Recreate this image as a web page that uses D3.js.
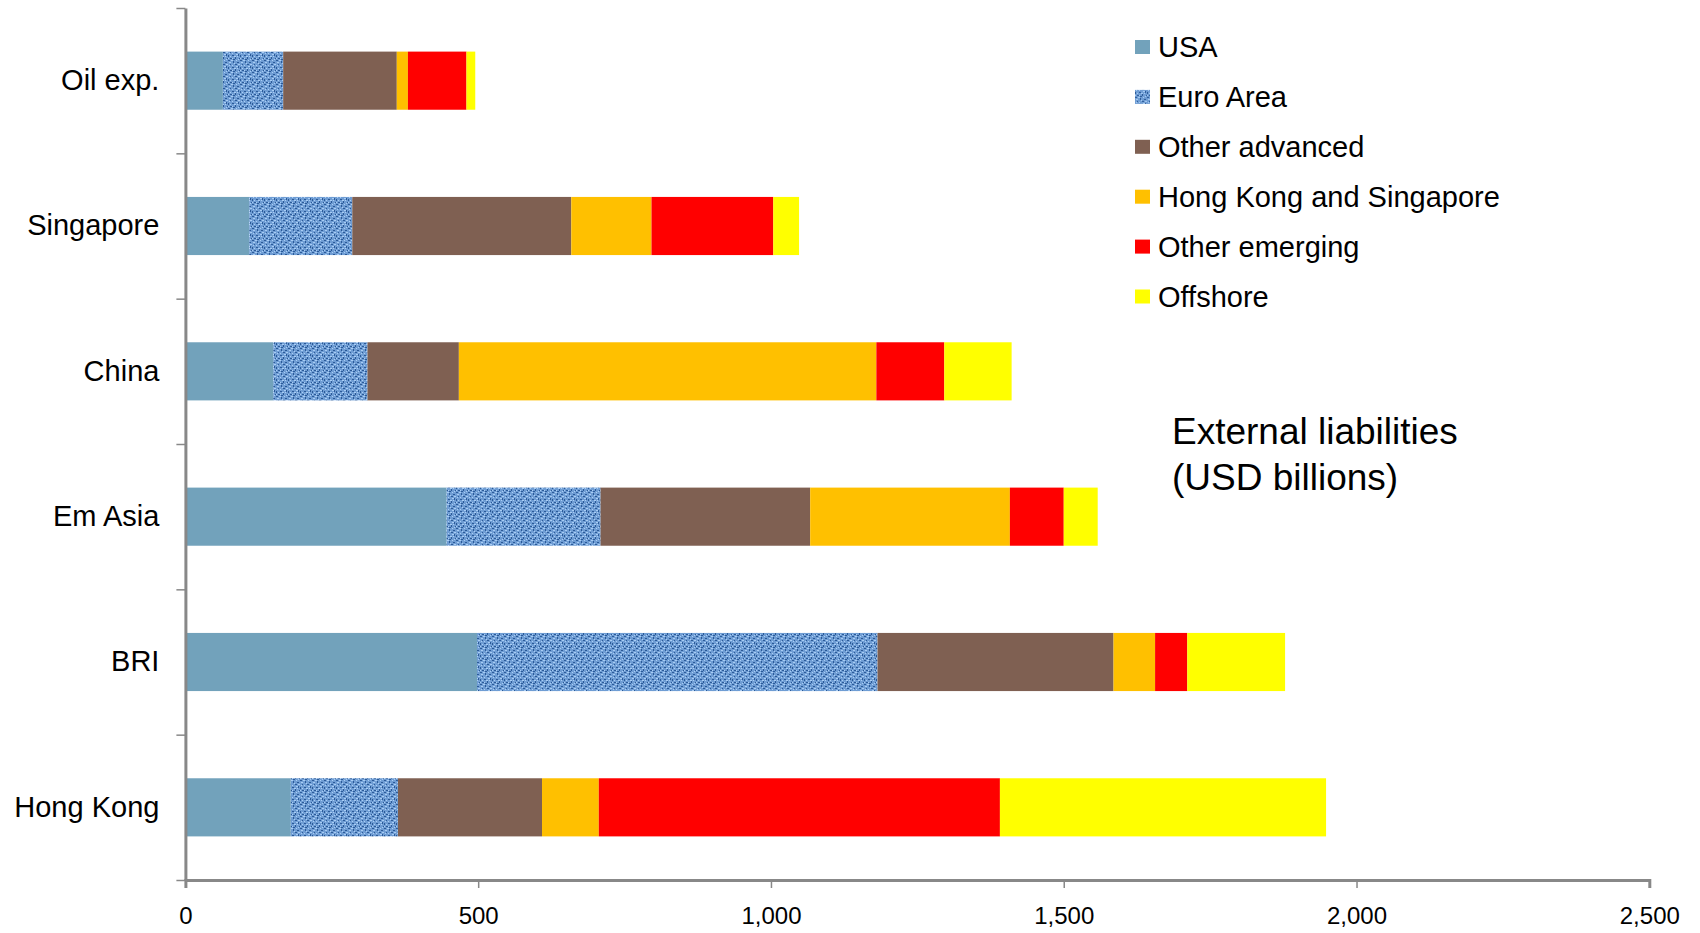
<!DOCTYPE html>
<html>
<head>
<meta charset="utf-8">
<script src="https://cdn.jsdelivr.net/npm/d3@7"></script>
<style>
  html, body { margin: 0; padding: 0; background: #fff; }
  svg { display: block; }
  text { font-family: "Liberation Sans", Arial, sans-serif; fill: #000; }
</style>
</head>
<body>
<svg id="chart" width="1700" height="933"></svg>
<script>
const categories = ["Oil exp.", "Singapore", "China", "Em Asia", "BRI", "Hong Kong"];
const seriesNames = ["USA", "Euro Area", "Other advanced", "Hong Kong and Singapore", "Other emerging", "Offshore"];
const usa            = [64, 109, 150, 446, 498, 180];
const euroArea       = [103, 176, 161, 263, 684, 183];
const otherAdvanced  = [194, 374, 156, 358, 403, 246];
const hkSingapore    = [19, 137, 713, 341, 71, 97];
const otherEmerging  = [100, 208, 116, 92, 55, 685];
const offshore       = [15, 44, 115, 58, 167, 557];
const xTicks = [0, 500, 1000, 1500, 2000, 2500];
const titleLines = ["External liabilities", "(USD billions)"];

const colors = ["#72a2bb", "url(#euroPattern)", "#7f6052", "#ffc000", "#ff0000", "#ffff00"];

const seriesValues = [usa, euroArea, otherAdvanced, hkSingapore, otherEmerging, offshore];
const rows = categories.map((c, i) => {
  const r = { cat: c };
  seriesNames.forEach((s, j) => r[s] = seriesValues[j][i]);
  return r;
});

const svg = d3.select("#chart");

// Euro Area texture pattern
const defs = svg.append("defs");
const pat = defs.append("pattern").attr("id", "euroPattern")
  .attr("patternUnits", "userSpaceOnUse").attr("width", 12).attr("height", 12);
pat.append("rect").attr("width", 12).attr("height", 12).attr("fill", "#6f9dd4");
const darkSpecks = [[0,0,2,1],[5,1,1,2],[9,2,2,1],[2,4,1,1],[7,4,2,1],[0,7,1,2],[4,7,2,1],[10,6,1,2],[2,10,2,1],[7,9,1,2],[11,10,1,1],[5,11,2,1]];
const lightSpecks = [[3,0,2,1],[8,0,1,1],[1,2,2,1],[6,3,1,1],[10,4,2,1],[4,5,1,1],[1,5,1,1],[8,6,2,1],[6,8,2,1],[2,8,1,1],[9,8,1,1],[0,10,1,1],[4,10,1,1],[10,11,1,1]];
pat.selectAll("rect.d").data(darkSpecks).enter().append("rect")
  .attr("x", d => d[0]).attr("y", d => d[1]).attr("width", d => d[2]).attr("height", d => d[3]).attr("fill", "#2b5a98");
pat.selectAll("rect.l").data(lightSpecks).enter().append("rect")
  .attr("x", d => d[0]).attr("y", d => d[1]).attr("width", d => d[2]).attr("height", d => d[3]).attr("fill", "#a9cdf4");

const x = d3.scaleLinear().domain([0, 2500]).range([185.4, 1649.3]);
const y = d3.scaleBand().domain(categories).range([8, 880]).paddingInner(0.6).paddingOuter(0.3);
const yBound = d3.scaleLinear().domain([0, categories.length]).range([8, 880]);

const stack = d3.stack().keys(seriesNames);
const stacked = stack(rows);

svg.append("g").selectAll("g").data(stacked).enter().append("g")
  .attr("fill", (d, i) => colors[i])
  .selectAll("rect").data(d => d).enter().append("rect")
  .attr("x", d => x(d[0]))
  .attr("y", d => y(d.data.cat))
  .attr("width", d => x(d[1]) - x(d[0]))
  .attr("height", y.bandwidth());

// X axis
const xAxis = svg.append("g").attr("transform", "translate(0,880)")
  .call(d3.axisBottom(x).tickValues(xTicks).tickFormat(d3.format(",")).tickSize(8).tickPadding(19));
xAxis.select(".domain").attr("stroke", "#888").attr("stroke-width", 3);
xAxis.selectAll(".tick line").attr("stroke", "#888").attr("stroke-width", 1.5);
xAxis.selectAll(".tick text").attr("font-size", 24).attr("font-family", "'Liberation Sans', Arial, sans-serif").attr("fill", "#000");

// Y axis boundary ticks
const yAxisTicks = svg.append("g").attr("transform", "translate(185.4,0)")
  .call(d3.axisLeft(yBound).tickValues(d3.range(0, categories.length + 1)).tickFormat("").tickSize(9).tickSizeOuter(0));
yAxisTicks.select(".domain").attr("stroke", "#888").attr("stroke-width", 3);
yAxisTicks.selectAll(".tick line").attr("stroke", "#888").attr("stroke-width", 1.5);

// Y category labels
const yLabels = svg.append("g").attr("transform", "translate(185.4,0)")
  .call(d3.axisLeft(y).tickSize(0).tickPadding(26));
yLabels.select(".domain").remove();
yLabels.selectAll(".tick text").attr("font-size", 29).attr("font-family", "'Liberation Sans', Arial, sans-serif").attr("fill", "#000");

// Legend
const legend = svg.append("g").attr("transform", "translate(1135,47)");
const li = legend.selectAll("g").data(seriesNames).enter().append("g")
  .attr("transform", (d, i) => `translate(0,${i * 49.9})`);
li.append("rect").attr("x", 0).attr("y", -7).attr("width", 15).attr("height", 14)
  .attr("fill", (d, i) => colors[i]);
li.append("text").attr("x", 23).attr("y", 0).attr("dy", "0.35em")
  .attr("font-size", 29).text(d => d);

// Title annotation
svg.append("g").selectAll("text").data(titleLines).enter().append("text")
  .attr("x", 1172).attr("y", (d, i) => 431.5 + i * 45.5).attr("dy", "0.35em")
  .attr("font-size", 37).text(d => d);
</script>
</body>
</html>
